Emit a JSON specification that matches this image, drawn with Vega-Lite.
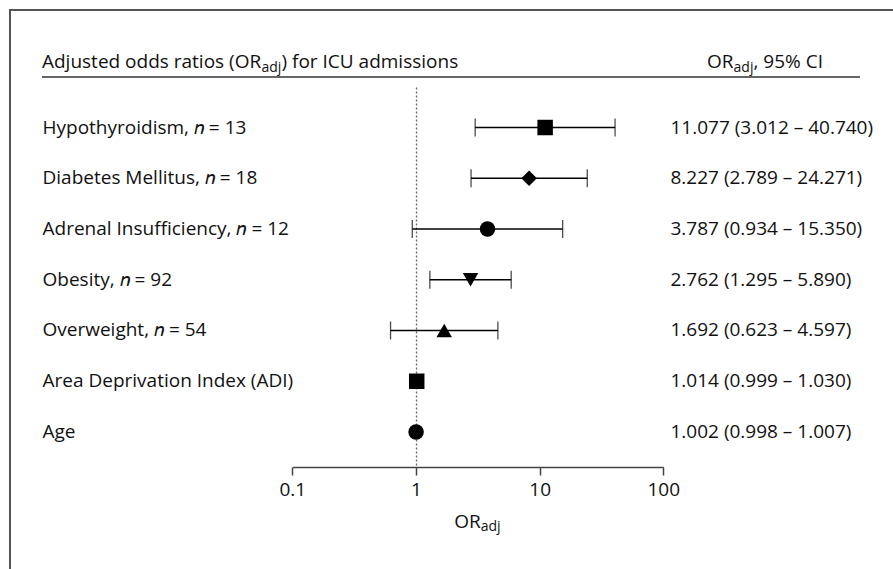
{
  "$schema": "https://vega.github.io/schema/vega-lite/v6.json",
  "width": 900,
  "height": 600,
  "autosize": {"type": "none"},
  "padding": {"left": 10, "top": 10, "right": -17, "bottom": -41},
  "background": "white",
  "config": {
    "font": "Open Sans",
    "view": {"stroke": "#555555", "strokeWidth": 2},
    "axis": {"labelFont": "Open Sans", "labelFontSize": 19, "labelColor": "#111111"},
    "axisX": {
      "orient": "bottom",
      "offset": -143,
      "grid": false,
      "domainColor": "#444444",
      "domainWidth": 1.5,
      "tickColor": "#444444",
      "tickWidth": 1.5,
      "tickSize": 8,
      "labelPadding": 5,
      "labelFlush": false
    },
    "text": {"font": "Open Sans", "fontSize": 19, "color": "#111111"}
  },
  "data": {
    "values": [
      {"key": "Hypothyroidism, 𝑛 = 13|11.077 (3.012 – 40.740)", "label": "Hypothyroidism", "or": 11.077, "lo": 3.012, "hi": 40.74},
      {"key": "Diabetes Mellitus, 𝑛 = 18|8.227 (2.789 – 24.271)", "label": "Diabetes Mellitus", "or": 8.227, "lo": 2.789, "hi": 24.271},
      {"key": "Adrenal Insufficiency, 𝑛 = 12|3.787 (0.934 – 15.350)", "label": "Adrenal Insufficiency", "or": 3.787, "lo": 0.934, "hi": 15.35},
      {"key": "Obesity, 𝑛 = 92|2.762 (1.295 – 5.890)", "label": "Obesity", "or": 2.762, "lo": 1.295, "hi": 5.89},
      {"key": "Overweight, 𝑛 = 54|1.692 (0.623 – 4.597)", "label": "Overweight", "or": 1.692, "lo": 0.623, "hi": 4.597},
      {"key": "Area Deprivation Index (ADI)|1.014 (0.999 – 1.030)", "label": "ADI", "or": 1.014, "lo": 0.999, "hi": 1.03},
      {"key": "Age|1.002 (0.998 – 1.007)", "label": "Age", "or": 1.002, "lo": 0.998, "hi": 1.007}
    ]
  },
  "layer": [
    {
      "mark": {"type": "point", "filled": true, "opacity": 1, "color": "black", "size": 240},
      "encoding": {
        "y": {
          "field": "key",
          "type": "nominal",
          "sort": null,
          "scale": {"type": "band", "range": [77, 457], "paddingInner": 0, "paddingOuter": 0.244, "align": 0.611},
          "axis": {
            "orient": "left",
            "offset": -406,
            "title": null,
            "ticks": false,
            "tickSize": 0,
            "domainDash": [2, 2],
            "domainColor": "#666666",
            "domainWidth": 1.3,
            "labelAlign": "left",
            "labelPadding": 374,
            "labelLimit": 0,
            "labelExpr": "split(datum.value, '|')[0]"
          }
        },
        "x": {
          "field": "or",
          "type": "quantitative",
          "title": null,
          "scale": {"type": "log", "domain": [0.1, 100], "range": [282.3, 653.3], "nice": false},
          "axis": {"values": [0.1, 1, 10, 100], "format": "~g"}
        },
        "shape": {
          "field": "label",
          "type": "nominal",
          "scale": {
            "domain": ["Hypothyroidism", "Diabetes Mellitus", "Adrenal Insufficiency", "Obesity", "Overweight", "ADI", "Age"],
            "range": ["square", "diamond", "circle", "triangle-down", "triangle-up", "square", "circle"]
          },
          "legend": null
        }
      }
    },
    {
      "mark": {"type": "rule", "color": "black", "strokeWidth": 1.3},
      "encoding": {
        "y": {
          "field": "key",
          "type": "nominal",
          "sort": null,
          "axis": {
            "orient": "right",
            "offset": -240,
            "title": null,
            "ticks": false,
            "tickSize": 0,
            "domain": false,
            "labelAlign": "left",
            "labelPadding": 0,
            "labelLimit": 0,
            "labelExpr": "split(datum.value, '|')[1]"
          }
        },
        "x": {"field": "lo", "type": "quantitative", "title": null},
        "x2": {"field": "hi"}
      }
    },
    {
      "transform": [{"filter": "datum.hi / datum.lo > 1.2"}],
      "mark": {"type": "tick", "color": "black", "size": 18, "thickness": 1.3},
      "encoding": {
        "y": {"field": "key", "type": "nominal", "sort": null, "axis": null},
        "x": {"field": "lo", "type": "quantitative", "title": null}
      }
    },
    {
      "transform": [{"filter": "datum.hi / datum.lo > 1.2"}],
      "mark": {"type": "tick", "color": "black", "size": 18, "thickness": 1.3},
      "encoding": {
        "y": {"field": "key", "type": "nominal", "sort": null, "axis": null},
        "x": {"field": "hi", "type": "quantitative", "title": null}
      }
    },
    {
      "data": {"values": [{}]},
      "mark": {"type": "rule", "color": "#333333", "strokeWidth": 1.5, "yOffset": -50.5},
      "encoding": {
        "x": {"datum": 0.000946, "type": "quantitative", "title": null},
        "x2": {"datum": 3892},
        "y": {"datum": "Hypothyroidism, 𝑛 = 13|11.077 (3.012 – 40.740)", "type": "nominal", "axis": null}
      }
    },
    {
      "data": {"values": [{}]},
      "mark": {"type": "text", "text": "Adjusted odds ratios (OR", "align": "left", "baseline": "alphabetic", "dx": -374, "dy": -59.5},
      "encoding": {
        "x": {"datum": 1, "type": "quantitative", "title": null},
        "y": {"datum": "Hypothyroidism, 𝑛 = 13|11.077 (3.012 – 40.740)", "type": "nominal", "axis": null}
      }
    },
    {
      "data": {"values": [{}]},
      "mark": {"type": "text", "text": "adj", "align": "left", "baseline": "alphabetic", "fontSize": 14, "dx": -154.5, "dy": -56},
      "encoding": {
        "x": {"datum": 1, "type": "quantitative", "title": null},
        "y": {"datum": "Hypothyroidism, 𝑛 = 13|11.077 (3.012 – 40.740)", "type": "nominal", "axis": null}
      }
    },
    {
      "data": {"values": [{}]},
      "mark": {"type": "text", "text": ") for ICU admissions", "align": "left", "baseline": "alphabetic", "dx": -134.5, "dy": -59.5},
      "encoding": {
        "x": {"datum": 1, "type": "quantitative", "title": null},
        "y": {"datum": "Hypothyroidism, 𝑛 = 13|11.077 (3.012 – 40.740)", "type": "nominal", "axis": null}
      }
    },
    {
      "data": {"values": [{}]},
      "mark": {"type": "text", "text": "OR", "align": "left", "baseline": "alphabetic", "dx": 291, "dy": -59.5},
      "encoding": {
        "x": {"datum": 1, "type": "quantitative", "title": null},
        "y": {"datum": "Hypothyroidism, 𝑛 = 13|11.077 (3.012 – 40.740)", "type": "nominal", "axis": null}
      }
    },
    {
      "data": {"values": [{}]},
      "mark": {"type": "text", "text": "adj", "align": "left", "baseline": "alphabetic", "fontSize": 14, "dx": 317.6, "dy": -56},
      "encoding": {
        "x": {"datum": 1, "type": "quantitative", "title": null},
        "y": {"datum": "Hypothyroidism, 𝑛 = 13|11.077 (3.012 – 40.740)", "type": "nominal", "axis": null}
      }
    },
    {
      "data": {"values": [{}]},
      "mark": {"type": "text", "text": ", 95% CI", "align": "left", "baseline": "alphabetic", "dx": 337.5, "dy": -59.5},
      "encoding": {
        "x": {"datum": 1, "type": "quantitative", "title": null},
        "y": {"datum": "Hypothyroidism, 𝑛 = 13|11.077 (3.012 – 40.740)", "type": "nominal", "axis": null}
      }
    },
    {
      "data": {"values": [{}]},
      "mark": {"type": "text", "text": "OR", "align": "left", "baseline": "alphabetic", "dx": 38.2, "dy": 96},
      "encoding": {
        "x": {"datum": 1, "type": "quantitative", "title": null},
        "y": {"datum": "Age|1.002 (0.998 – 1.007)", "type": "nominal", "axis": null}
      }
    },
    {
      "data": {"values": [{}]},
      "mark": {"type": "text", "text": "adj", "align": "left", "baseline": "alphabetic", "fontSize": 14, "dx": 64.8, "dy": 99.5},
      "encoding": {
        "x": {"datum": 1, "type": "quantitative", "title": null},
        "y": {"datum": "Age|1.002 (0.998 – 1.007)", "type": "nominal", "axis": null}
      }
    }
  ],
  "resolve": {"axis": {"y": "independent"}}
}
